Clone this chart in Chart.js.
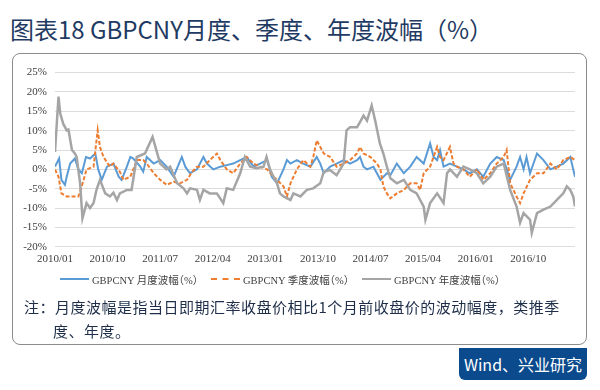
<!DOCTYPE html>
<html>
<head>
<meta charset="utf-8">
<script src="https://cdn.jsdelivr.net/npm/chart.js@4.4.1/dist/chart.umd.min.js"></script>
<style>
  body { margin: 0; background: #fff; width: 600px; height: 390px; position: relative; overflow: hidden;
         font-family: "Noto Sans CJK SC", sans-serif; }
  .title { position: absolute; left: 10px; top: 13px; font-size: 24px; line-height: 32px; color: #1f3b63; white-space: nowrap; }
  .box { position: absolute; left: 12px; top: 53px; width: 575px; height: 292px; border: 1.5px solid #8c8c8c;
         border-radius: 8px; box-sizing: border-box; }
  .chart-wrap { position: absolute; left: 14px; top: 58px; width: 570px; height: 214px; }
  #legend-gbpcny { position: absolute; left: 60px; top: 271px; height: 16px; }
  #legend-gbpcny ul { list-style: none; margin: 0; padding: 0; display: flex; }
  #legend-gbpcny li { display: flex; align-items: center; width: 151px; height: 16px;
         font: 10.5px "Liberation Serif", "Noto Sans CJK SC", serif; font-feature-settings: "halt";
         color: #404040; white-space: nowrap; }
  #legend-gbpcny .swatch { display: block; width: 29px; height: 0; margin-right: 3px; }
  .note { position: absolute; left: 24px; top: 295px; font-size: 15px; letter-spacing: 0.5px; line-height: 24px; color: #1f2f4a; white-space: nowrap; }
  .note .l2 { padding-left: 29px; }
  .src { position: absolute; left: 459px; top: 348px; width: 128px; height: 32px; background: #0b4a8c; color: #fff;
         border-radius: 0 0 6px 6px; font-size: 16px; line-height: 32px; text-align: center; }
</style>
</head>
<body>
<div class="title">图表18 GBPCNY月度、季度、年度波幅（%）</div>
<div class="box"></div>
<div class="chart-wrap"><canvas id="chart-gbpcny"></canvas></div>
<div id="legend-gbpcny"><ul></ul></div>
<div class="note">注：月度波幅是指当日即期汇率收盘价相比1个月前收盘价的波动幅度，类推季<br><span class="l2">度、年度。</span></div>
<div class="src">Wind、兴业研究</div>
<script>
// x values are months counted from 2010/01
const tickLabels = ['2010/01', '2010/10', '2011/07', '2012/04', '2013/01', '2013/10', '2014/07', '2015/04', '2016/01', '2016/10'];
const seriesNames = ['GBPCNY 月度波幅（%）', 'GBPCNY 季度波幅（%）', 'GBPCNY 年度波幅（%）'];

const monthlyX = [0, 0.7, 1.1, 1.7, 2, 2.6, 3.4, 4, 4.6, 5.3, 6, 6.9, 7.4, 8, 8.9, 10, 10.9, 11.4, 12.3, 12.9, 13.4, 14.6, 15.1, 15.7, 16.9, 18, 19.1, 20.3, 21.7, 22.3,
  23.1, 24.3, 25.4, 26, 27.1, 28.3, 29.4, 30.5, 31.7, 32.8, 34, 35.1, 36.3, 37.1, 38, 39.1, 39.7, 40.3, 41.4, 42.5, 43.7, 44.8, 45.4, 46, 47.1, 48.2, 49.4, 50.5, 51.7, 52.2,
  52.8, 53.4, 54.5, 55.7, 56.8, 57.4, 58.5, 59.7, 60.8, 61.9, 63.1, 64.2, 64.8, 65.4, 65.9, 66.5, 67.6, 68.8, 69.9, 71, 72.2, 73.3, 74.5, 75.6, 76.8, 77.9, 79, 79.6, 80.2, 80.7,
  81.3, 82.5, 83.6, 84.8, 85.9, 87, 88.2, 89];
const monthlyY = [0.7, 2.8, -2.7, -4, -1.9, 1.5, 2.8, 0, -1, 3.2, 2.8, 4.1, 0, -2.7, 0.7, 1.5, -1.9, -2.7, 0.7, 3.2, 2.8, 0.7, -0.6, 3.2, 1.5, 2.4, 0.7, -1.9, 3.2, 0.7,
  -1, 0, 3.2, 1.5, 0, 0.7, 1.1, 1.5, 2.4, 3.2, 0.7, 1.5, 2.4, -1.9, -3.6, 0, 2.4, 1.5, 2.4, 1.5, 0.7, 3.2, 1.5, -1, 0.7, 1.5, 2.4, 1.5, 2.4, 3.2,
  0.7, 0, 0.7, -2.7, -1, -1.5, 1.5, -1, 0.7, 3.2, 1.5, 6.7, 3.2, 2.4, 5, 0.7, 1.5, 0.7, 0, -1, 0, -1.9, 1.5, 3.2, 2.4, -2.7, 0.7, 3.2, 0, 3.2,
  -1, 4.1, 2.4, 0, 0.7, 1.5, 3.2, -1.9];

const quarterlyX = [0, 0.6, 1.1, 2, 3.1, 4, 4.3, 4.9, 5.4, 6.6, 7.3, 7.7, 8.3, 9.4, 10, 11.1, 11.7, 12.9, 13.4, 14, 15.1, 15.7, 16.9, 18, 19.1, 20.3, 21.4, 22.6, 23.4, 24.3,
  25.4, 26.5, 27.7, 28.3, 29.4, 30.5, 31.7, 32.8, 34, 35.1, 36.3, 37.4, 38, 39.1, 39.7, 40.3, 41.4, 42.5, 43.7, 44.2, 44.8, 45.4, 46, 47.1, 48.2, 49.4, 50.5, 51.7, 52.2, 52.8,
  54, 55.1, 55.7, 56.2, 56.8, 57.4, 58.5, 59.7, 60.8, 61.9, 62.5, 63.1, 64.2, 65.4, 65.9, 66.5, 67.6, 68.2, 68.8, 69.9, 71, 72.2, 73.3, 74.5, 75.6, 76.8, 77.3, 77.9, 79, 79.6,
  80.2, 81.3, 82.5, 83.6, 84.8, 85.9, 87, 88.2, 89];
const quarterlyY = [0, -1.9, -6.2, -7, -7, -7, -5.7, -2.7, 0, 0.7, 10.1, 5.8, 3.2, 0.7, 1.5, -0.6, -2.7, -1.9, 0, 2.4, 2.4, 1.5, -1, -2.7, -4, -3.2, -3.6, -2.7, -0.8, 0.7,
  0.7, 2.4, 4.1, 2.4, 0, -1, 1.5, 3.2, 1.5, 0.7, 0, -1.9, -2.7, -4.4, -7, -3.6, 0, 2.4, 0.7, 3.2, 7.5, 5.8, 4.1, 3.2, 0.7, 1.5, 2.4, 4.1, 5.8, 4.1,
  3.2, 1.5, 0, -4.4, -6.2, -7.5, -6.2, -5.3, -3.6, -3.6, -5.3, -1, 0.7, 5.8, 3.2, 2.4, 5.8, 1.5, 0.7, 0, -1.9, 0, -2.7, -1, 1.5, 3.2, 5, -3.6, -7, -8.7,
  -6.2, -2.7, -1, -1, 1.5, 0, 2.4, 3.2, 2.4];

const annualX = [0, 0.6, 0.9, 1.4, 2, 2.3, 2.9, 3.4, 3.7, 4.3, 4.7, 5.4, 6, 6.6, 7.1, 7.7, 8.6, 9.4, 10, 10.6, 11.1, 12.3, 13.1, 14, 15.4, 16.7, 18, 19.1, 19.7, 20.9,
  22, 22.6, 23.1, 24.3, 24.8, 25.4, 26.5, 27.7, 28.8, 29.4, 30.5, 31.7, 32.5, 33.4, 34.5, 35.7, 36.2, 36.8, 37.4, 38, 38.5, 39.1, 40.3, 40.8, 42, 43.1, 44.2, 45.4, 46, 47.1,
  48.2, 49.4, 49.9, 50.5, 51.7, 52.2, 52.8, 53.4, 54.2, 54.8, 55.6, 56.2, 56.8, 57.4, 58.5, 59.7, 60.8, 61.9, 63.1, 63.4, 64.2, 65.4, 66.5, 67.1, 67.6, 68.8, 69.9, 71, 72.2, 73.3,
  74.5, 75.6, 76.8, 77.9, 79, 79.6, 80.2, 81.3, 81.6, 82.5, 83.6, 84.8, 85.9, 87, 87.6, 88.2, 88.7, 89];
const annualY = [4.5, 18.8, 14.4, 11.8, 10.1, 10.3, 5, 4.1, 3.2, -3.6, -12.6, -8.7, -10, -8.7, -5.3, -2.7, -6.2, -7, -6, -7.9, -6.2, -5.3, -5.3, 3.2, 4.1, 8.4, 1.5, 0, 0.7, -3.6,
  -4.9, -6.2, -4.9, -5.3, -7.9, -5.3, -6.2, -6.2, -8.7, -4.9, -5.3, -1, 3.2, 0.7, 0.3, 0.7, 3.2, 0, -1.9, -3.6, -6.2, -7, -7.9, -6.2, -7, -5.3, -4.9, -3.6, -0.6, -0.2,
  -1.5, 1.5, 10.1, 10.9, 10.9, 12.2, 13.9, 12.6, 16.5, 12.6, 6.7, 4.1, 0.7, -2.3, -3.6, -2.7, -5.3, -6.2, -9.6, -13, -8.7, -6.2, -8.7, -1, 0, -1.9, 0.7, 0, -1, -3.6,
  -1.9, 0.7, 1.5, -5.3, -9.6, -13.8, -11.3, -13, -16.4, -11.3, -10.4, -9.6, -7.9, -6.2, -4.4, -5.3, -7, -9.6];

const toPoints = (xs, ys) => xs.map((x, i) => ({ x: x, y: ys[i] }));

const ctx = document.getElementById('chart-gbpcny');
new Chart(ctx, {
  type: 'line',
  data: {
    datasets: [{
      label: seriesNames[0],
      data: toPoints(monthlyX, monthlyY),
      borderColor: '#5b9bd5',
      backgroundColor: '#5b9bd5',
      borderWidth: 2,
      order: 2,
    }, {
      label: seriesNames[1],
      data: toPoints(quarterlyX, quarterlyY),
      borderColor: '#ed7d31',
      backgroundColor: '#ed7d31',
      borderWidth: 2,
      borderDash: [4, 2],
      order: 1,
    }, {
      label: seriesNames[2],
      data: toPoints(annualX, annualY),
      borderColor: '#a5a5a5',
      backgroundColor: '#a5a5a5',
      borderWidth: 2.5,
      order: 0,
    }],
  },
  options: {
    responsive: true,
    maintainAspectRatio: false,
    animation: false,
    elements: { point: { radius: 0 }, line: { tension: 0 } },
    layout: { padding: { top: 0, right: 9, bottom: 0, left: 0 } },
    scales: {
      x: {
        type: 'linear',
        min: 0,
        max: 89,
        grid: { display: false, drawTicks: false },
        border: { display: false },
        ticks: {
          stepSize: 9,
          autoSkip: false,
          maxRotation: 0,
          padding: 6,
          color: '#404040',
          font: { family: '"Liberation Serif", serif', size: 11 },
          callback: (v) => (v % 9 === 0 && tickLabels[v / 9]) ? tickLabels[v / 9] : '',
        },
      },
      y: {
        min: -20,
        max: 25,
        grid: { color: '#dcdcdc', lineWidth: 1, drawTicks: false },
        border: { display: false },
        afterFit: (scale) => { scale.width = 41; },
        ticks: {
          stepSize: 5,
          padding: 8,
          color: '#404040',
          font: { family: '"Liberation Serif", serif', size: 11 },
          callback: (v) => v + '%',
        },
      },
    },
    plugins: {
      tooltip: { enabled: false },
      legend: { display: false },
      htmlLegend: { containerID: 'legend-gbpcny' },
    },
  },
  plugins: [{
    id: 'htmlLegend',
    afterUpdate(c, args, options) {
      const ul = document.getElementById(options.containerID).querySelector('ul');
      if (!ul) return;
      while (ul.firstChild) {
        ul.firstChild.remove();
      }
      const items = c.options.plugins.legend.labels.generateLabels(c)
        .sort((a, b) => a.datasetIndex - b.datasetIndex);
      items.forEach((item) => {
        const li = document.createElement('li');
        // line sample
        const box = document.createElement('span');
        box.className = 'swatch';
        const dashed = item.lineDash && item.lineDash.length;
        box.style.borderTop = item.lineWidth + 'px ' + (dashed ? 'dashed ' : 'solid ') + item.strokeStyle;
        li.appendChild(box);
        li.appendChild(document.createTextNode(item.text));
        ul.appendChild(li);
      });
    },
  }],
});
</script>
</body>
</html>
